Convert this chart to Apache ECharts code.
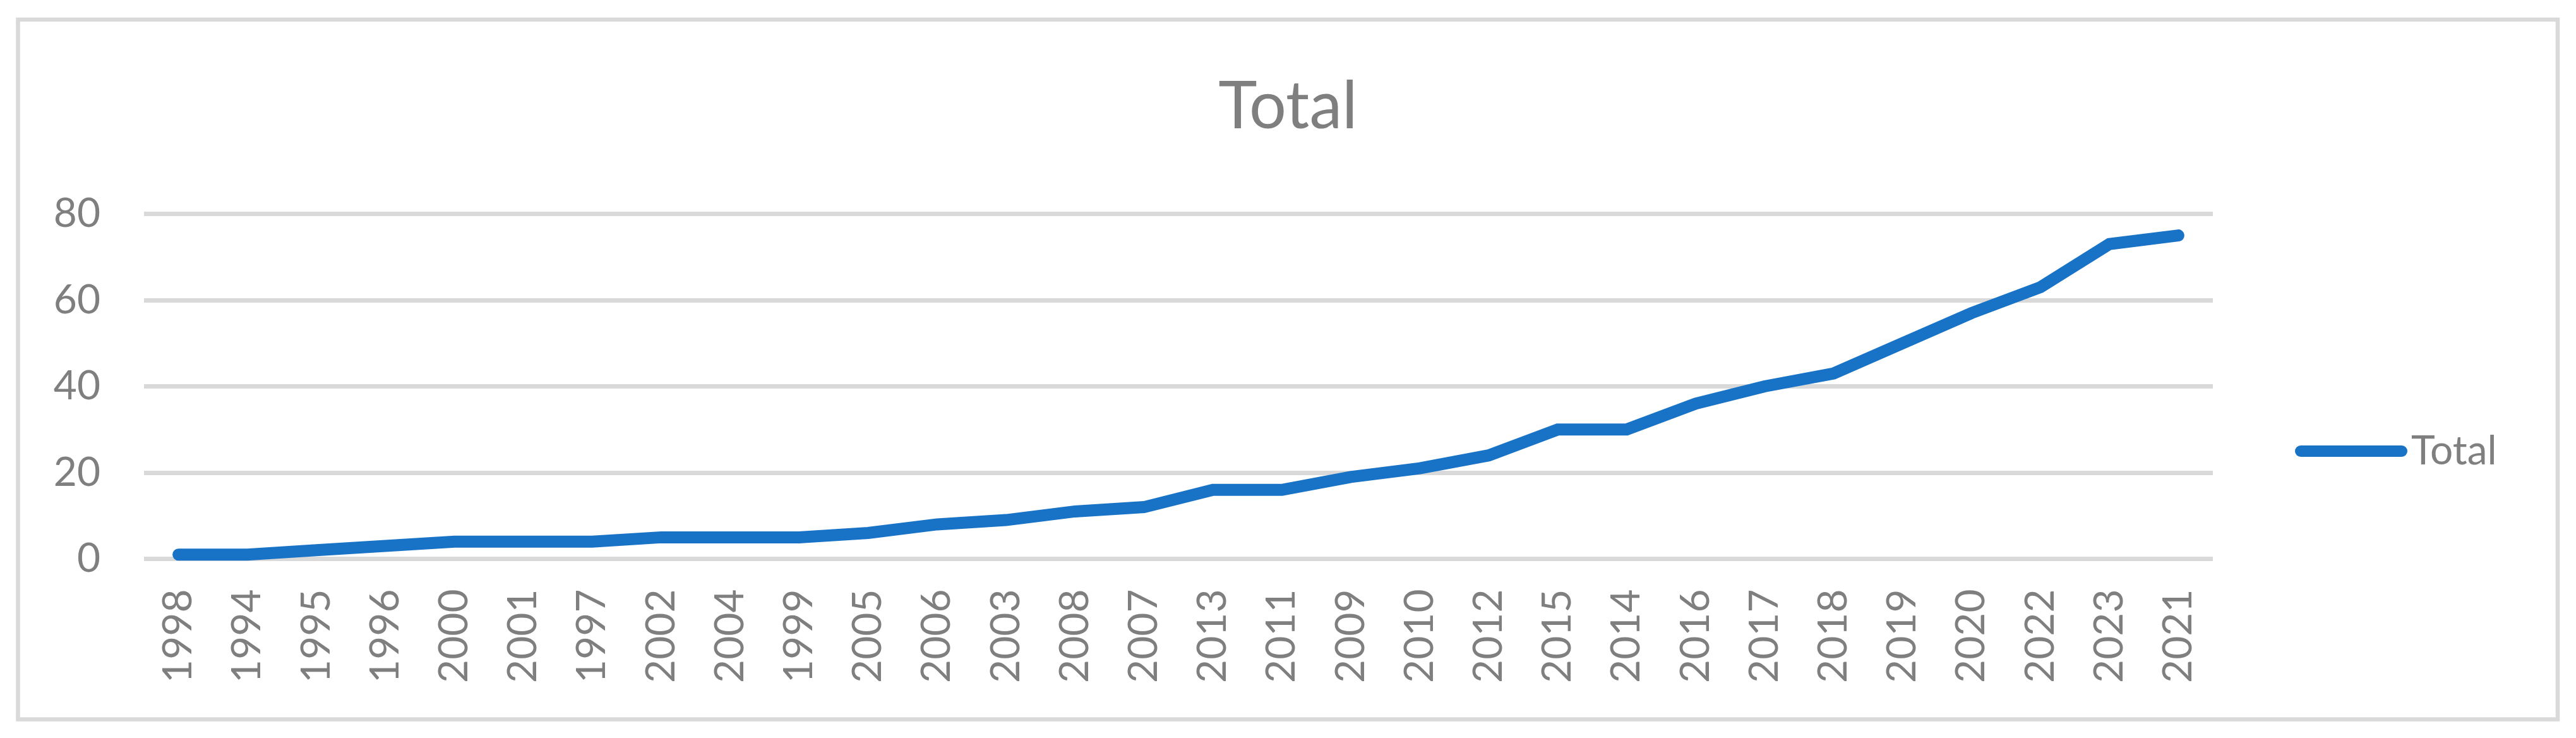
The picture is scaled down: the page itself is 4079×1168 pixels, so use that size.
<!DOCTYPE html>
<html>
<head>
<meta charset="utf-8">
<script src="https://cdn.jsdelivr.net/npm/echarts@6/dist/echarts.min.js"></script>
<style>
  html, body { margin: 0; padding: 0; background: #fff; }
  #chart { width: 4079px; height: 1168px; }
</style>
</head>
<body>
<div id="chart"></div>
<script>
// categories in the order they appear on the axis
const years = [
  '1998', '1994', '1995', '1996', '2000', '2001', '1997', '2002', '2004', '1999',
  '2005', '2006', '2003', '2008', '2007', '2013', '2011', '2009', '2010', '2012',
  '2015', '2014', '2016', '2017', '2018', '2019', '2020', '2022', '2023', '2021'
];
const totals = [
  1, 1, 2, 3, 4, 4, 4, 5, 5, 5,
  6, 8, 9, 11, 12, 16, 16, 19, 21, 24,
  30, 30, 36, 40, 43, 50, 57, 63, 73, 75
];
const yTicks = [0, 20, 40, 60, 80];

const gray = '#7f7f7f';
const gridGray = '#d9d9d9';
const blue = '#1873c7';
const font = 'Lato';

const chart = echarts.init(document.getElementById('chart'), null, { renderer: 'canvas' });

chart.setOption({
  animation: false,
  backgroundColor: '#fff',
  title: {
    text: 'Total',
    left: 'center',
    top: 112,
    textStyle: { fontFamily: font, fontSize: 104, fontWeight: 'normal', color: gray }
  },
  legend: {
    left: 3634,
    top: 682,
    padding: 0,
    itemWidth: 160,
    itemHeight: 20,
    lineStyle: { width: 18, cap: 'round' },
    textStyle: { fontFamily: font, fontSize: 64, color: gray, padding: [0, 0, 0, 10] },
    data: ['Total']
  },
  grid: {
    left: 228,
    right: 575,
    top: 338.5,
    bottom: 283.5,
    outerBoundsMode: 'none'
  },
  xAxis: {
    type: 'category',
    data: years,
    boundaryGap: true,
    axisLine: { show: false },
    axisTick: { show: false },
    axisLabel: {
      interval: 0,
      rotate: 90,
      margin: 48,
      fontFamily: font,
      fontSize: 64,
      color: gray
    }
  },
  yAxis: {
    type: 'value',
    min: yTicks[0],
    max: yTicks[yTicks.length - 1],
    interval: yTicks[1] - yTicks[0],
    axisLine: { show: false },
    axisTick: { show: false },
    axisLabel: { margin: 69, fontFamily: font, fontSize: 64, color: gray },
    splitLine: { lineStyle: { color: gridGray, width: 7 } }
  },
  series: [
    {
      name: 'Total',
      type: 'line',
      data: totals,
      symbol: 'none',
      color: blue,
      lineStyle: { width: 19, color: blue, cap: 'round', join: 'miter' }
    }
  ],
  graphic: [
    {
      type: 'rect',
      silent: true,
      z: -1,
      shape: { x: 28.5, y: 31, width: 4021.5, height: 1107.5 },
      style: { fill: 'none', stroke: gridGray, lineWidth: 6.5 }
    }
  ]
});
</script>
</body>
</html>
